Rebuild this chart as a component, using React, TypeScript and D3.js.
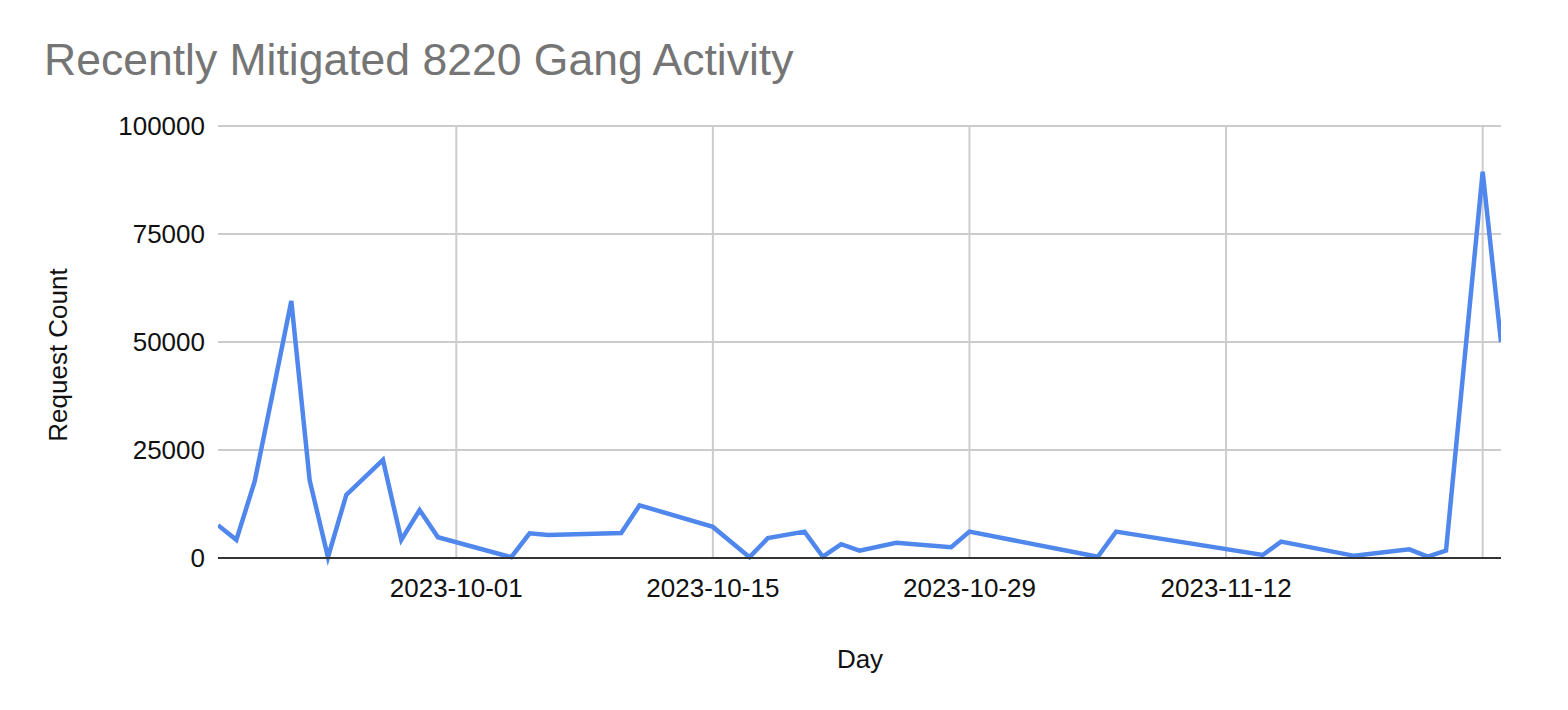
import { useMemo } from 'react';
import * as d3 from 'd3';

// values
const days = [
  '2023-09-18', '2023-09-19', '2023-09-20', '2023-09-21', '2023-09-22', '2023-09-23',
  '2023-09-24', '2023-09-25', '2023-09-27', '2023-09-28', '2023-09-29', '2023-09-30',
  '2023-10-04', '2023-10-05', '2023-10-06', '2023-10-10', '2023-10-11', '2023-10-15',
  '2023-10-17', '2023-10-18', '2023-10-20', '2023-10-21', '2023-10-22', '2023-10-23',
  '2023-10-25', '2023-10-28', '2023-10-29', '2023-11-05', '2023-11-06', '2023-11-14',
  '2023-11-15', '2023-11-19', '2023-11-22', '2023-11-23', '2023-11-24', '2023-11-26',
  '2023-11-27'
];
const requestCounts = [
  7600, 4200, 17700, 38500, 59500, 18000,
  200, 14600, 22700, 4200, 11100, 4800,
  200, 5700, 5300, 5800, 12200, 7200,
  200, 4600, 6100, 300, 3200, 1700,
  3500, 2500, 6100, 300, 6100, 700,
  3800, 500, 2000, 300, 1700, 89400,
  50000
];
const xDomain = ['2023-09-18', '2023-11-27'];
const xTicks = ['2023-10-01', '2023-10-15', '2023-10-29', '2023-11-12', '2023-11-26'];
const yTicks = [0, 25000, 50000, 75000, 100000];

const W = 1568;
const H = 710;
const margin = { left: 218, right: 67, top: 126, bottom: 152 };
const font = "'Liberation Sans', Arial, sans-serif";

export default function App() {
  const parse = d3.utcParse('%Y-%m-%d');

  const x = useMemo(
    () =>
      d3
        .scaleUtc()
        .domain(xDomain.map((d) => parse(d) as Date))
        .range([margin.left, W - margin.right]),
    []
  );
  const y = useMemo(
    () => d3.scaleLinear().domain([0, 100000]).range([H - margin.bottom, margin.top]),
    []
  );

  const points = days.map((d, i) => ({ date: parse(d) as Date, value: requestCounts[i] }));
  const line = d3
    .line<{ date: Date; value: number }>()
    .x((d) => x(d.date))
    .y((d) => y(d.value));

  const fmt = d3.utcFormat('%Y-%m-%d');
  const x0 = margin.left;
  const x1 = W - margin.right;
  const y0 = H - margin.bottom;

  return (
    <div style={{ position: 'absolute', left: 0, top: 0 }}>
      <svg width={W} height={H} viewBox={`0 0 ${W} ${H}`} style={{ display: 'block', background: '#fff' }}>
        <defs>
          <clipPath id="plot">
            <rect x={x0} y={margin.top - 10} width={x1 - x0} height={y0 - margin.top + 20} />
          </clipPath>
        </defs>

        <text x={44} y={75} fontFamily={font} fontSize={44.5} fill="#757575">
          Recently Mitigated 8220 Gang Activity
        </text>

        {/* horizontal grid + y labels */}
        {yTicks.map((t) => (
          <g key={t}>
            {t !== 0 && <line x1={x0} x2={x1} y1={y(t)} y2={y(t)} stroke="#cccccc" strokeWidth={2} />}
            <text
              x={205}
              y={y(t)}
              dy="0.36em"
              textAnchor="end"
              fontFamily={font}
              fontSize={26}
              fill="#111"
            >
              {t}
            </text>
          </g>
        ))}

        {/* vertical grid + x labels (only those that fit inside the plot) */}
        {xTicks.map((s) => {
          const d = parse(s) as Date;
          const px = x(d);
          const fits = px + 66 <= x1;
          return (
            <g key={s}>
              <line x1={px} x2={px} y1={margin.top} y2={y0} stroke="#cccccc" strokeWidth={2} />
              {fits && (
                <text x={px} y={597} textAnchor="middle" fontFamily={font} fontSize={26} fill="#111">
                  {fmt(d)}
                </text>
              )}
            </g>
          );
        })}

        <path
          d={line(points) ?? ''}
          fill="none"
          stroke="#4f87ec"
          strokeWidth={4.5}
          strokeLinejoin="miter"
          clipPath="url(#plot)"
        />

        <line x1={x0} x2={x1} y1={y0} y2={y0} stroke="#333333" strokeWidth={2} />

        <text x={860} y={668} textAnchor="middle" fontFamily={font} fontSize={26} fill="#111">
          Day
        </text>
        <text
          transform={`translate(67,355) rotate(-90)`}
          textAnchor="middle"
          fontFamily={font}
          fontSize={26}
          fill="#111"
        >
          Request Count
        </text>
      </svg>
    </div>
  );
}
